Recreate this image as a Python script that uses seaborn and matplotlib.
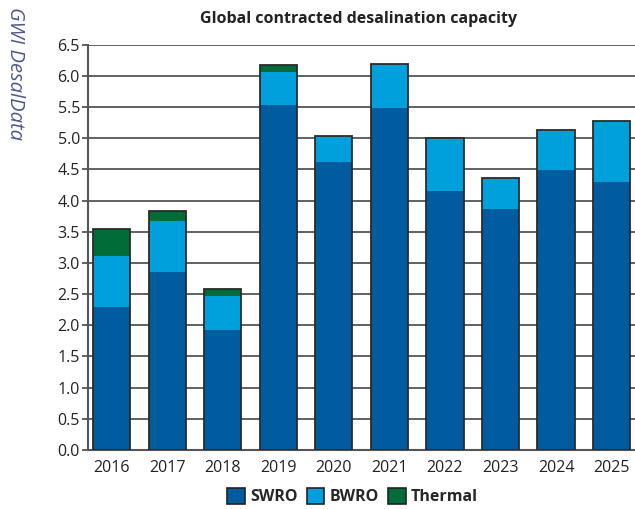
"""
Global contracted desalination capacity - stacked bars
"""
import matplotlib
matplotlib.use('Agg')
import matplotlib.pyplot as plt
import seaborn as sns
import pandas as pd
from matplotlib.patches import Patch

years = ['2016', '2017', '2018', '2019', '2020', '2021', '2022', '2023', '2024', '2025']
swro = [2.29, 2.85, 1.93, 5.53, 4.62, 5.49, 4.16, 3.87, 4.49, 4.30]
bwro = [0.82, 0.83, 0.54, 0.53, 0.41, 0.70, 0.84, 0.49, 0.65, 0.97]
thermal = [0.44, 0.15, 0.11, 0.12, 0.0, 0.0, 0.0, 0.0, 0.0, 0.0]

COLORS = {'SWRO': '#005b9f', 'BWRO': '#00a0dc', 'Thermal': '#006d38'}

sns.set_style('white')
plt.rcParams['font.family'] = ['Open Sans', 'DejaVu Sans']

df = pd.DataFrame({'year': years, 'SWRO': swro, 'BWRO': bwro, 'Thermal': thermal})
df['top_bwro'] = df['SWRO'] + df['BWRO']
df['total'] = df['top_bwro'] + df['Thermal']

fig, ax = plt.subplots(figsize=(6.35, 5.09), dpi=100)
fig.subplots_adjust(left=0.139, right=1.0, top=0.912, bottom=0.116)

w = 0.67
# layered cumulative bars
sns.barplot(data=df, x='year', y='total', color=COLORS['Thermal'], width=w,
            saturation=1, linewidth=0, ax=ax, zorder=3)
sns.barplot(data=df, x='year', y='top_bwro', color=COLORS['BWRO'], width=w,
            saturation=1, linewidth=0, ax=ax, zorder=3)
sns.barplot(data=df, x='year', y='SWRO', color=COLORS['SWRO'], width=w,
            saturation=1, linewidth=0, ax=ax, zorder=3)
# outline around each full bar
sns.barplot(data=df, x='year', y='total', fill=False, width=w,
            edgecolor='#2b2b2b', linewidth=1.3, ax=ax, zorder=4)

ax.set_ylim(0, 6.5)
ax.set_xlim(-0.42, 9.42)
ax.set_yticks([i * 0.5 for i in range(14)])
ax.set_yticklabels([f'{i * 0.5:.1f}' for i in range(14)])
ax.yaxis.grid(True, color='#555555', linewidth=1.3, zorder=0)
ax.set_axisbelow(True)
for s in ['top', 'right']:
    ax.spines[s].set_visible(False)
ax.spines['left'].set_color('#555555')
ax.spines['left'].set_linewidth(1.5)
ax.spines['bottom'].set_color('#555555')
ax.spines['bottom'].set_linewidth(1.5)
ax.tick_params(axis='y', left=True, length=4, width=1.3, color='#555555',
               labelsize=11.5, labelcolor='#222222', pad=2)
ax.tick_params(axis='x', bottom=False, labelsize=11.5, labelcolor='#222222', pad=4)
ax.set_xlabel('')
ax.set_ylabel('')

fig.text(0.565, 0.963, 'Global contracted desalination capacity', ha='center',
         va='center', fontsize=11.5, fontweight='bold', color='#222222')
fig.text(0.024, 0.856, 'GWI DesalData', rotation=-90, ha='center', va='center',
         fontsize=14.5, style='italic', color='#4c5a8c')

handles = [Patch(facecolor=COLORS[k], edgecolor='#222222', linewidth=1.2, label=k)
           for k in ['SWRO', 'BWRO', 'Thermal']]
fig.legend(handles=handles, loc='center', bbox_to_anchor=(0.555, 0.024), ncol=3,
           frameon=False, handlelength=1.1, handleheight=1.1, handletextpad=0.3,
           columnspacing=0.6, prop={'weight': 'bold', 'size': 11.5})

plt.savefig('out.png', dpi=100)
plt.close()
